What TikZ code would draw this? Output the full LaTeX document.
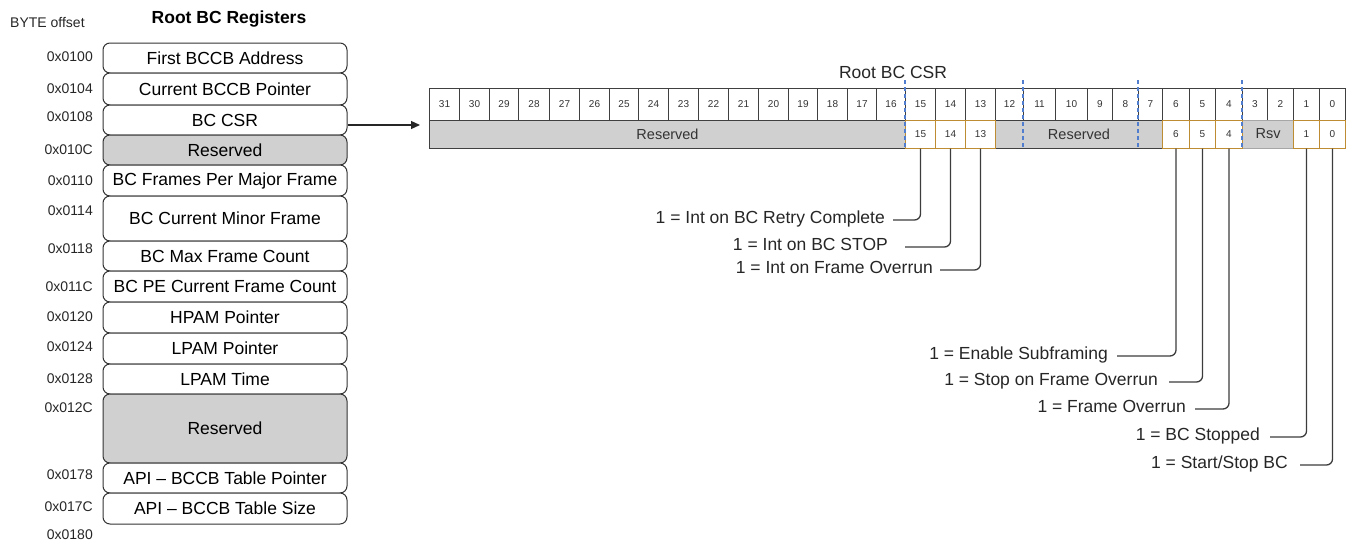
\documentclass[tikz,border=0pt]{standalone}
\usepackage{fontspec}
\setmainfont{Liberation Sans}
\usetikzlibrary{arrows.meta}
\definecolor{resgray}{RGB}{208,208,208}
\definecolor{fieldor}{RGB}{190,140,50}
\definecolor{guideblue}{RGB}{80,125,205}
\definecolor{linegray}{RGB}{60,60,60}
\tikzset{
  regbox/.style={draw=black!80, line width=1pt, rounded corners=7pt, fill=white,
    minimum width=244pt, inner sep=0pt, font=\fontsize{17.5}{20}\selectfont},
  regres/.style={regbox, fill=resgray},
  offs/.style={inner sep=0pt, anchor=east, font=\fontsize{14}{16}\selectfont, text=black!85},
  bitcell/.style={draw=black!75, line width=1pt, fill=white, minimum height=32pt,
    inner sep=0pt, anchor=west, font=\fontsize{10}{12}\selectfont, text=black!80},
  fieldcell/.style={draw=fieldor, line width=1pt, fill=white, minimum height=28pt,
    inner sep=0pt, anchor=west, font=\fontsize{10}{12}\selectfont, text=black!80},
  resfield/.style={draw=black!75, line width=1pt, fill=resgray, minimum height=28pt,
    inner sep=0pt, anchor=west, font=\fontsize{14.5}{16}\selectfont, text=black!80},
  guide/.style={draw=guideblue, line width=1.1pt, dash pattern=on 4pt off 3pt},
  lbl/.style={inner sep=0pt, anchor=east, text height=0.8em, text depth=0.1em,
    font=\fontsize{17.5}{20}\selectfont, text=black!85},
  conn/.style={draw=linegray, line width=1.3pt, rounded corners=6pt},
}
\begin{document}
\begin{tikzpicture}[x=1pt,y=-1pt]
\useasboundingbox (0,0) rectangle (1346,541);

% titles
\node[inner sep=0pt, anchor=west, font=\fontsize{14}{16}\selectfont, text=black!85] (byte) at (10,23) {BYTE offset};
\node[inner sep=0pt, font=\bfseries\fontsize{17.5}{20}\selectfont] (title) at (229,19) {Root BC Registers};

% left register column
\node[regbox, minimum height=30pt] (r1) at (225,58) {First BCCB Address};
\node[regbox, minimum height=32pt] (r2) at (225,89) {Current BCCB Pointer};
\node[regbox, minimum height=30pt] (csr) at (225,120) {BC CSR};
\node[regres, minimum height=30pt] (r4) at (225,150) {Reserved};
\node[regbox, minimum height=31pt] (r5) at (225,180.5) {BC Frames Per Major Frame};
\node[regbox, minimum height=45pt] (r6) at (225,218.5) {BC Current Minor Frame};
\node[regbox, minimum height=30pt] (r7) at (225,256) {BC Max Frame Count};
\node[regbox, minimum height=31pt] (r8) at (225,286.5) {BC PE Current Frame Count};
\node[regbox, minimum height=31pt] (r9) at (225,317.5) {HPAM Pointer};
\node[regbox, minimum height=31pt] (r10) at (225,348.5) {LPAM Pointer};
\node[regbox, minimum height=30pt] (r11) at (225,379) {LPAM Time};
\node[regres, minimum height=69pt] (r12) at (225,428.5) {Reserved};
\node[regbox, minimum height=30pt] (r13) at (225,478) {API -- BCCB Table Pointer};
\node[regbox, minimum height=31pt] (r14) at (225,508.5) {API -- BCCB Table Size};

% offsets
\node[offs] (o1) at (93,57) {0x0100};
\node[offs] (o2) at (93,89) {0x0104};
\node[offs] (o3) at (93,117) {0x0108};
\node[offs] (o4) at (93,150) {0x010C};
\node[offs] (o5) at (93,181) {0x0110};
\node[offs] (o6) at (93,211) {0x0114};
\node[offs] (o7) at (93,249) {0x0118};
\node[offs] (o8) at (93,287) {0x011C};
\node[offs] (o9) at (93,317) {0x0120};
\node[offs] (o10) at (93,347) {0x0124};
\node[offs] (o11) at (93,379) {0x0128};
\node[offs] (o12) at (93,408) {0x012C};
\node[offs] (o13) at (93,475) {0x0178};
\node[offs] (o14) at (93,507) {0x017C};
\node[offs] (o15) at (93,535) {0x0180};

% CSR title
\node[inner sep=0pt, font=\fontsize{17.5}{20}\selectfont, text=black!85] (csrtitle) at (893,72) {Root BC CSR};

% bit number row
\foreach \n/\a/\b in {31/429/459,30/459/489,29/489/518,28/518/549,27/549/579,26/579/609,
  25/609/638,24/638/668,23/668/698,22/698/728,21/728/758,20/758/788,19/788/817,18/817/847,
  17/847/876,16/876/905,15/905/935,14/935/965,13/965/995,12/995/1023,11/1023/1055,
  10/1055/1087,9/1087/1112,8/1112/1138,7/1138/1162,6/1162/1189,5/1189/1215,4/1215/1242,
  3/1242/1267,2/1267/1293,1/1293/1319,0/1319/1345}{
  \pgfmathsetmacro\w{\b-\a}
  \node[bitcell, minimum width=\w pt] (b\n) at (\a,104) {\n};
}

% field row
\node[resfield, minimum width=476pt] (res1) at (429,134) {Reserved};
\node[resfield, minimum width=167pt] (res2) at (995,134) {Reserved};
\node[resfield, draw=black!35, minimum width=51pt] (rsv) at (1242,134) {Rsv};
\foreach \n/\a/\b in {15/905/935,14/935/965,13/965/995,6/1162/1189,5/1189/1215,
  4/1215/1242,1/1293/1319,0/1319/1345}{
  \pgfmathsetmacro\w{\b-\a}
  \node[fieldcell, minimum width=\w pt] (f\n) at (\a,134) {\n};
}

% blue guide lines
\foreach \x in {905,1023,1138,1242}{
  \draw[guide] (\x,80) -- (\x,148);
}

% arrow from BC CSR
\coordinate (arrtip) at (420,125);
\draw[draw=black!85, line width=1.2pt, -{Triangle[length=9pt,width=8pt]}] ([yshift=-5pt]csr.east) -- (arrtip);

% labels
\node[lbl] (l15) at (885,220) {1 = Int on BC Retry Complete};
\node[lbl] (l14) at (888,247) {1 = Int on BC STOP};
\node[lbl] (l13) at (933,270) {1 = Int on Frame Overrun};
\node[lbl] (l6) at (1108,356) {1 = Enable Subframing};
\node[lbl] (l5) at (1158,382) {1 = Stop on Frame Overrun};
\node[lbl] (l4) at (1186,409) {1 = Frame Overrun};
\node[lbl] (l1) at (1260,437) {1 = BC Stopped};
\node[lbl] (l0) at (1288,465) {1 = Start/Stop BC};

% connectors
\draw[conn] (f15.south) |- ([xshift=8pt]l15.east);
\draw[conn] (f14.south) |- ([xshift=17pt]l14.east);
\draw[conn] (f13.south) |- ([xshift=7pt]l13.east);
\draw[conn] (f6.south) |- ([xshift=9pt]l6.east);
\draw[conn] (f5.south) |- ([xshift=11pt]l5.east);
\draw[conn] (f4.south) |- ([xshift=9pt]l4.east);
\draw[conn] (f1.south) |- ([xshift=10pt]l1.east);
\draw[conn] (f0.south) |- ([xshift=12pt]l0.east);
\end{tikzpicture}
\end{document}
